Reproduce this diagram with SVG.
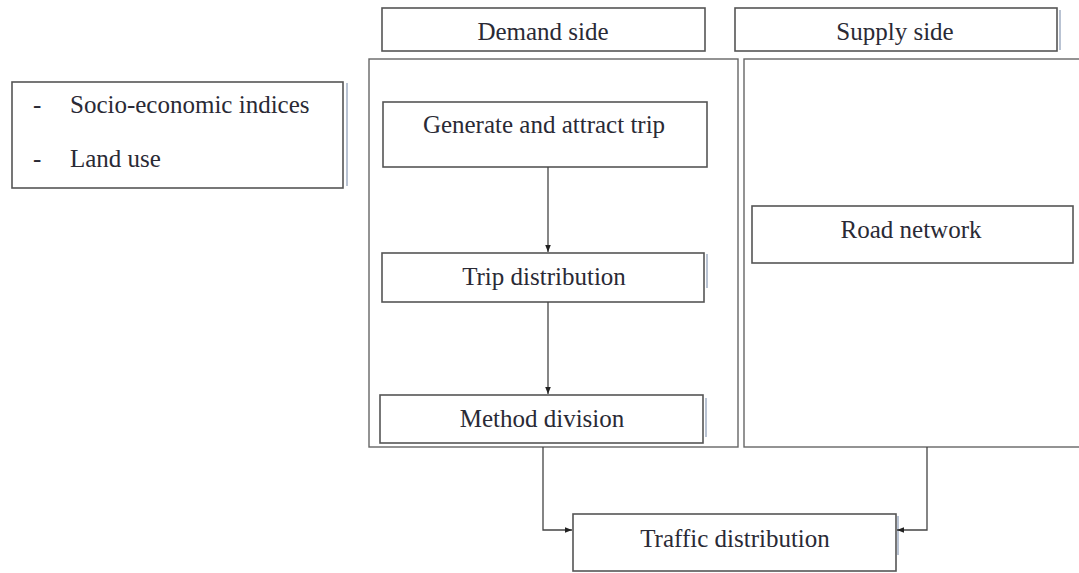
<svg xmlns="http://www.w3.org/2000/svg" width="1079" height="573" viewBox="0 0 1079 573">
<style>
.box{fill:#fff;stroke:#555;stroke-width:1.6}
.cont{fill:#fff;stroke:#666;stroke-width:1.4}
.sh{stroke:#b9c3d3;stroke-width:2;fill:none}
.t{font-family:"Liberation Serif","Times New Roman",serif;font-size:25px;fill:#2a2a35;text-anchor:middle}
.tl{font-family:"Liberation Serif","Times New Roman",serif;font-size:25px;fill:#2a2a35}
.c{stroke:#444;stroke-width:1.3;fill:none}
</style>
<defs>
<marker id="ah" viewBox="0 0 10 10" refX="10" refY="5" markerWidth="7" markerHeight="7" orient="auto" markerUnits="userSpaceOnUse">
<path d="M0,1 L10,5 L0,9 z" fill="#222"/>
</marker>
</defs>
<rect width="1079" height="573" fill="#fff"/>
<g id="demand-container"><rect class="cont" x="369" y="59" width="369" height="388"/></g>
<g id="supply-container"><rect class="cont" x="744" y="59" width="340" height="388"/></g>
<g id="demand-side">
<rect class="box" x="382" y="8" width="323" height="43"/>
<text class="t" x="543" y="40">Demand side</text>
</g>
<g id="supply-side">
<line class="sh" x1="1060" y1="10" x2="1060" y2="50"/>
<rect class="box" x="735" y="8" width="322" height="43"/>
<text class="t" x="895" y="40">Supply side</text>
</g>
<g id="inputs">
<line class="sh" x1="347" y1="83" x2="347" y2="186"/>
<rect class="box" x="12" y="82" width="331" height="106"/>
<text class="tl" x="33" y="113">-</text>
<text class="tl" x="70" y="113">Socio-economic indices</text>
<text class="tl" x="33" y="167">-</text>
<text class="tl" x="70" y="167">Land use</text>
</g>
<g id="generate">
<rect class="box" x="383" y="102" width="324" height="65"/>
<text class="t" x="544" y="133">Generate and attract trip</text>
</g>
<g id="trip-distribution">
<line class="sh" x1="707" y1="254" x2="707" y2="288"/>
<rect class="box" x="382" y="253" width="322" height="49"/>
<text class="t" x="544" y="285">Trip distribution</text>
</g>
<g id="method-division">
<line class="sh" x1="706" y1="398" x2="706" y2="437"/>
<rect class="box" x="380" y="395" width="323" height="48"/>
<text class="t" x="542" y="427">Method division</text>
</g>
<g id="road-network">
<rect class="box" x="752" y="206" width="321" height="57"/>
<text class="t" x="911" y="238">Road network</text>
</g>
<g id="traffic-distribution">
<line class="sh" x1="898" y1="516" x2="898" y2="555"/>
<rect class="box" x="573" y="514" width="323" height="57"/>
<text class="t" x="735" y="547">Traffic distribution</text>
</g>
<g id="connectors">
<line class="c" x1="548" y1="167" x2="548" y2="252" marker-end="url(#ah)"/>
<line class="c" x1="548" y1="302" x2="548" y2="394" marker-end="url(#ah)"/>
<polyline class="c" points="543,447 543,530 572,530" marker-end="url(#ah)"/>
<polyline class="c" points="927,447 927,530 897,530" marker-end="url(#ah)"/>
</g>
</svg>
